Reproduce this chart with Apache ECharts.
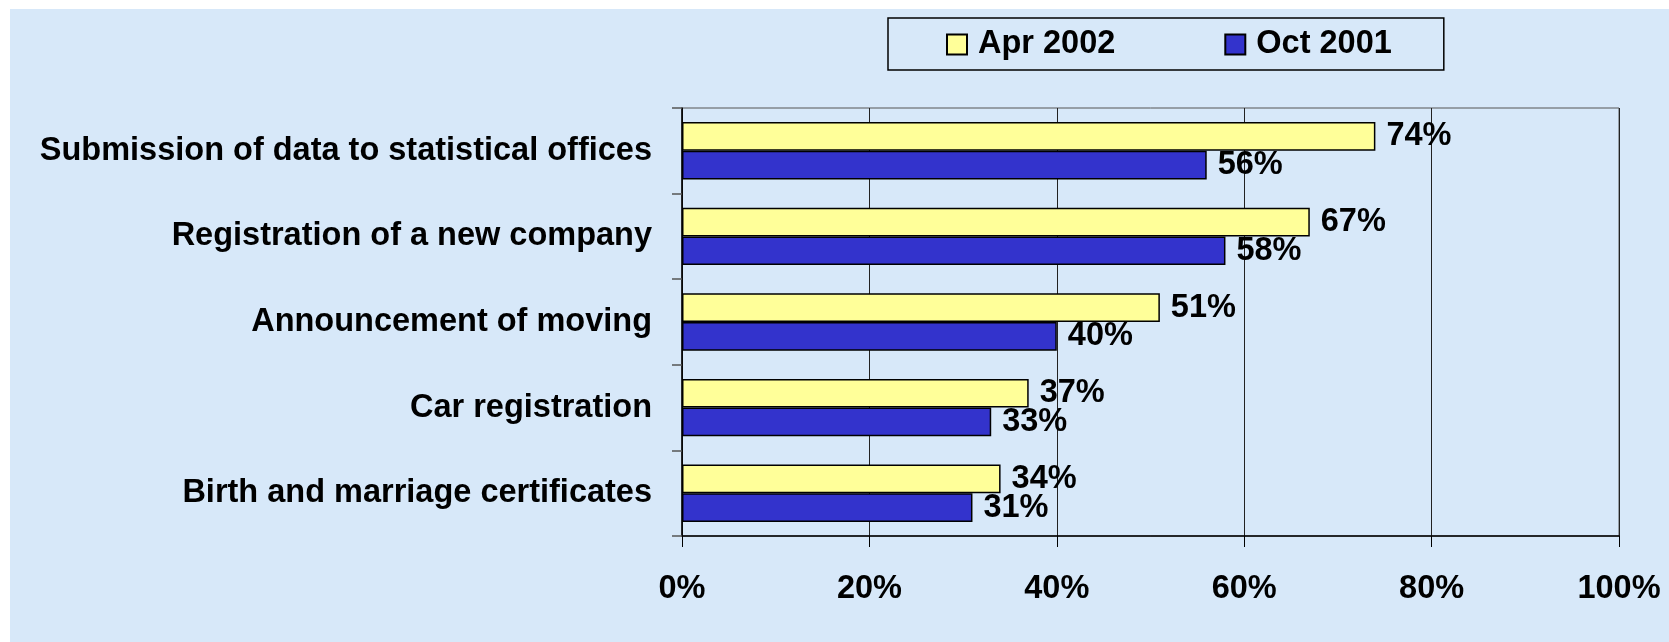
<!DOCTYPE html>
<html>
<head>
<meta charset="utf-8">
<script src="https://cdn.jsdelivr.net/npm/echarts@6/dist/echarts.min.js"></script>
<style>
  html, body { margin: 0; padding: 0; background: #ffffff; }
  #bg { position: absolute; left: 10px; top: 9px; width: 1659px; height: 633px; background: #d7e8f9; }
  #chart { position: absolute; left: 0; top: 0; width: 1669px; height: 642px; }
</style>
</head>
<body>
<div id="bg"></div>
<div id="chart"></div>
<script>
const categories = [
  'Submission of data to statistical offices',
  'Registration of a new company',
  'Announcement of moving',
  'Car registration',
  'Birth and marriage certificates'
];
const seriesNames = ['Apr 2002', 'Oct 2001'];
const apr2002 = [74, 67, 51, 37, 34];
const oct2001 = [56, 58, 40, 33, 31];
const xTickValues = [0, 20, 40, 60, 80, 100];

const FONT = '"Liberation Sans", Arial, sans-serif';
const FS = 32.5;
const chart = echarts.init(document.getElementById('chart'), null, { renderer: 'canvas' });

const labelStyle = {
  show: true,
  position: 'right',
  distance: 11,
  formatter: p => p.value + '%',
  fontFamily: FONT,
  fontSize: FS,
  fontWeight: 'bold',
  color: '#000'
};

chart.setOption({
  animation: false,
  backgroundColor: 'transparent',
  legend: {
    data: seriesNames,
    left: 888,
    top: 18,
    orient: 'horizontal',
    padding: [10, 52, 9, 58],
    itemGap: 109,
    itemWidth: 20,
    itemHeight: 20,
    icon: 'rect',
    borderColor: '#000',
    borderWidth: 1.5,
    borderRadius: 0,
    backgroundColor: 'transparent',
    textStyle: {
      fontFamily: FONT,
      fontSize: FS,
      fontWeight: 'bold',
      color: '#000',
      lineHeight: 32,
      padding: [0, 0, 0, 6]
    }
  },
  grid: {
    left: 682,
    top: 108,
    width: 937,
    height: 428,
    show: true,
    borderColor: '#555',
    borderWidth: 1,
    backgroundColor: 'transparent',
    containLabel: false
  },
  xAxis: {
    type: 'value',
    min: xTickValues[0],
    max: xTickValues[xTickValues.length - 1],
    interval: xTickValues[1] - xTickValues[0],
    axisLine: { show: true, lineStyle: { color: '#000', width: 1.5 } },
    axisTick: { show: true, length: 11, lineStyle: { color: '#000', width: 1 } },
    splitLine: { show: true, lineStyle: { color: '#222', width: 1 } },
    axisLabel: {
      formatter: v => v + '%',
      margin: 37,
      fontFamily: FONT,
      fontSize: FS,
      fontWeight: 'bold',
      color: '#000'
    }
  },
  yAxis: {
    type: 'category',
    inverse: true,
    data: categories,
    axisLine: { show: true, lineStyle: { color: '#000', width: 1.5 } },
    axisTick: { show: true, length: 10, interval: 0, lineStyle: { color: '#555', width: 1.5 } },
    splitLine: { show: false },
    axisLabel: {
      margin: 30,
      fontFamily: FONT,
      fontSize: FS,
      fontWeight: 'bold',
      color: '#000'
    }
  },
  series: [
    {
      name: seriesNames[0],
      type: 'bar',
      data: apr2002,
      barGap: 0,
      barCategoryGap: '33%',
      itemStyle: { color: '#FFFF99', borderColor: '#000', borderWidth: 1.5 },
      label: labelStyle
    },
    {
      name: seriesNames[1],
      type: 'bar',
      data: oct2001,
      barGap: 0,
      barCategoryGap: '33%',
      itemStyle: { color: '#3333CC', borderColor: '#000', borderWidth: 1.5 },
      label: labelStyle
    }
  ]
});
</script>
</body>
</html>
